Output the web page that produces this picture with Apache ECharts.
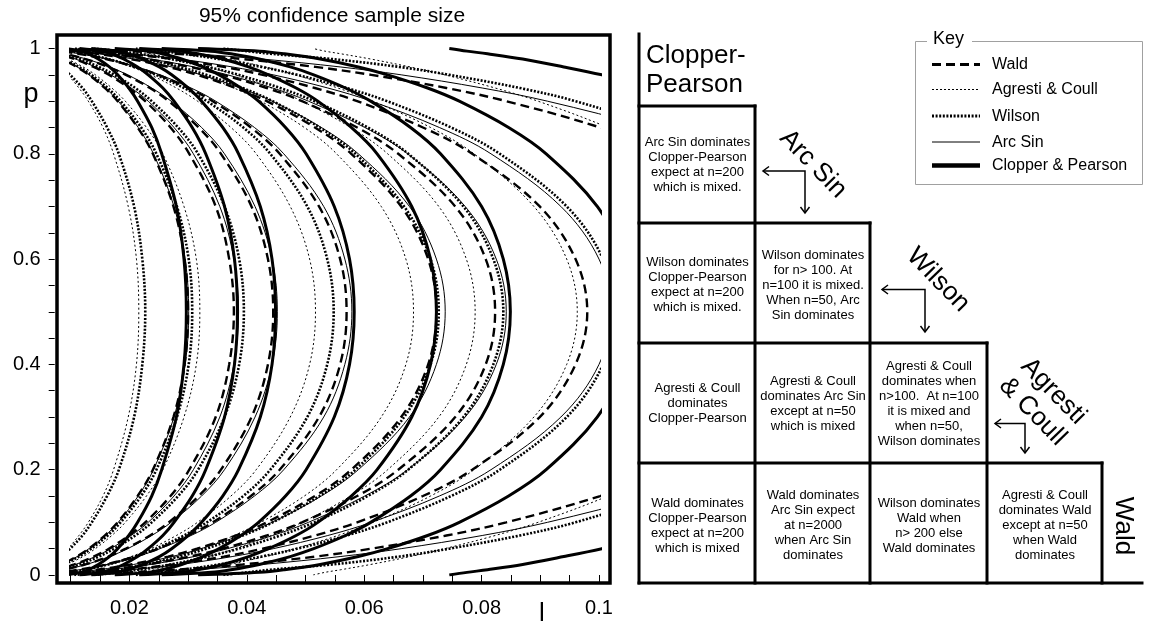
<!DOCTYPE html>
<html>
<head>
<meta charset="utf-8">
<title>95% confidence sample size</title>
<script src="https://cdn.jsdelivr.net/npm/echarts@6.0.0/dist/echarts.min.js"></script>
<style>
  html, body { margin: 0; padding: 0; background: #fff; }
  #chart { width: 1159px; height: 624px; }
</style>
</head>
<body>
<div id="chart"></div>
<script>
// Proportion levels for the lower half of every curve (each curve is symmetric about p = 0.5)
const pLevels = [0, 0.005, 0.01, 0.02, 0.035, 0.05, 0.075, 0.1, 0.15, 0.2, 0.3, 0.4, 0.5];

// Interval length l at each proportion level, one row per sample-size curve
const waldCurves = [
  [0, 0.0042, 0.0060, 0.0084, 0.0110, 0.0131, 0.0158, 0.0180, 0.0214, 0.0240, 0.0275, 0.0294, 0.0300],
  [0, 0.0053, 0.0075, 0.0106, 0.0139, 0.0165, 0.0199, 0.0227, 0.0270, 0.0302, 0.0347, 0.0370, 0.0378],
  [0, 0.0063, 0.0089, 0.0125, 0.0164, 0.0194, 0.0235, 0.0267, 0.0318, 0.0356, 0.0408, 0.0436, 0.0445],
  [0, 0.0080, 0.0113, 0.0160, 0.0210, 0.0249, 0.0300, 0.0342, 0.0407, 0.0456, 0.0523, 0.0559, 0.0570],
  [0, 0.0102, 0.0144, 0.0202, 0.0266, 0.0315, 0.0381, 0.0434, 0.0516, 0.0578, 0.0663, 0.0709, 0.0723],
  [0, 0.0116, 0.0164, 0.0230, 0.0303, 0.0359, 0.0434, 0.0494, 0.0588, 0.0658, 0.0755, 0.0807, 0.0823],
  [0, 0.0138, 0.0195, 0.0274, 0.0361, 0.0427, 0.0516, 0.0588, 0.0700, 0.0784, 0.0899, 0.0960, 0.0980],
  [0, 0.0198, 0.0279, 0.0393, 0.0517, 0.0612, 0.0740, 0.0842, 0.1002, 0.1123, 0.1287, 0.1376, 0.1404]
];
const agrestiCurves = [
  [0.0013, 0.0033, 0.0045, 0.0062, 0.0080, 0.0095, 0.0114, 0.0130, 0.0155, 0.0173, 0.0198, 0.0212, 0.0216],
  [0.0030, 0.0054, 0.0070, 0.0094, 0.0121, 0.0142, 0.0170, 0.0193, 0.0229, 0.0257, 0.0293, 0.0314, 0.0320],
  [0.0077, 0.0105, 0.0128, 0.0163, 0.0203, 0.0236, 0.0280, 0.0316, 0.0373, 0.0416, 0.0474, 0.0507, 0.0517],
  [0.0135, 0.0165, 0.0190, 0.0231, 0.0281, 0.0322, 0.0378, 0.0424, 0.0498, 0.0553, 0.0629, 0.0671, 0.0684],
  [0.0179, 0.0209, 0.0235, 0.0280, 0.0334, 0.0380, 0.0442, 0.0494, 0.0577, 0.0640, 0.0727, 0.0774, 0.0789],
  [0.0265, 0.0295, 0.0322, 0.0370, 0.0431, 0.0482, 0.0555, 0.0615, 0.0713, 0.0787, 0.0889, 0.0945, 0.0963],
  [0.0513, 0.0533, 0.0560, 0.0611, 0.0678, 0.0737, 0.0823, 0.0896, 0.1015, 0.1109, 0.1239, 0.1311, 0.1334]
];
const wilsonCurves = [
  [0.0010, 0.0034, 0.0046, 0.0064, 0.0084, 0.0099, 0.0120, 0.0136, 0.0162, 0.0182, 0.0208, 0.0222, 0.0227],
  [0.0019, 0.0047, 0.0064, 0.0088, 0.0114, 0.0135, 0.0163, 0.0185, 0.0220, 0.0246, 0.0281, 0.0301, 0.0307],
  [0.0031, 0.0064, 0.0084, 0.0115, 0.0148, 0.0174, 0.0210, 0.0238, 0.0283, 0.0317, 0.0362, 0.0387, 0.0395],
  [0.0060, 0.0098, 0.0124, 0.0164, 0.0209, 0.0245, 0.0293, 0.0332, 0.0394, 0.0440, 0.0503, 0.0537, 0.0548],
  [0.0106, 0.0146, 0.0178, 0.0227, 0.0285, 0.0331, 0.0393, 0.0444, 0.0524, 0.0585, 0.0668, 0.0713, 0.0727],
  [0.0140, 0.0182, 0.0216, 0.0270, 0.0334, 0.0386, 0.0457, 0.0515, 0.0606, 0.0675, 0.0769, 0.0820, 0.0837],
  [0.0211, 0.0254, 0.0291, 0.0352, 0.0425, 0.0486, 0.0570, 0.0639, 0.0748, 0.0831, 0.0945, 0.1007, 0.1027],
  [0.0360, 0.0400, 0.0440, 0.0545, 0.0660, 0.0745, 0.0865, 0.0960, 0.1100, 0.1200, 0.1300, 0.1350, 0.1370]
];
const arcSinCurves = [
  [0, 0.0043, 0.0060, 0.0085, 0.0111, 0.0131, 0.0159, 0.0181, 0.0215, 0.0241, 0.0276, 0.0295, 0.0301],
  [0, 0.0054, 0.0077, 0.0108, 0.0142, 0.0168, 0.0203, 0.0232, 0.0276, 0.0309, 0.0354, 0.0378, 0.0386],
  [0, 0.0064, 0.0090, 0.0127, 0.0166, 0.0197, 0.0238, 0.0271, 0.0323, 0.0362, 0.0414, 0.0443, 0.0452],
  [0, 0.0082, 0.0115, 0.0162, 0.0213, 0.0252, 0.0305, 0.0347, 0.0413, 0.0463, 0.0531, 0.0567, 0.0579],
  [0, 0.0104, 0.0147, 0.0207, 0.0272, 0.0322, 0.0389, 0.0443, 0.0527, 0.0590, 0.0677, 0.0723, 0.0738],
  [0.0020, 0.0119, 0.0168, 0.0236, 0.0310, 0.0367, 0.0444, 0.0505, 0.0601, 0.0674, 0.0772, 0.0825, 0.0842],
  [0.0052, 0.0148, 0.0203, 0.0286, 0.0375, 0.0445, 0.0538, 0.0612, 0.0728, 0.0816, 0.0935, 0.1000, 0.1020],
  [0.0113, 0.0242, 0.0309, 0.0426, 0.0559, 0.0663, 0.0801, 0.0912, 0.1085, 0.1216, 0.1394, 0.1490, 0.1520]
];
const clopperCurves = [
  [0.0089, 0.0119, 0.0130, 0.0147, 0.0166, 0.0180, 0.0199, 0.0214, 0.0238, 0.0255, 0.0280, 0.0293, 0.0297],
  [0.0115, 0.0153, 0.0169, 0.0190, 0.0214, 0.0232, 0.0257, 0.0276, 0.0307, 0.0330, 0.0362, 0.0379, 0.0384],
  [0.0135, 0.0179, 0.0197, 0.0223, 0.0251, 0.0272, 0.0300, 0.0323, 0.0359, 0.0386, 0.0423, 0.0443, 0.0449],
  [0.0175, 0.0233, 0.0256, 0.0289, 0.0325, 0.0353, 0.0390, 0.0420, 0.0466, 0.0501, 0.0549, 0.0575, 0.0583],
  [0.0217, 0.0288, 0.0317, 0.0359, 0.0403, 0.0437, 0.0484, 0.0521, 0.0578, 0.0622, 0.0681, 0.0713, 0.0723],
  [0.0255, 0.0339, 0.0373, 0.0421, 0.0474, 0.0514, 0.0568, 0.0611, 0.0679, 0.0730, 0.0800, 0.0837, 0.0849],
  [0.0317, 0.0422, 0.0464, 0.0525, 0.0590, 0.0640, 0.0708, 0.0762, 0.0846, 0.0910, 0.0997, 0.1043, 0.1058],
  [0.0745, 0.0775, 0.0810, 0.0870, 0.0940, 0.1005, 0.1100, 0.1200, 0.1400, 0.1550, 0.1750, 0.1850, 0.1900]
];

// Axis tick labels
const xTickValues = [0.02, 0.04, 0.06, 0.08, 0.1];
const xTickLabels = ['0.02', '0.04', '0.06', '0.08', '0.1'];
const yTickValues = [0, 0.2, 0.4, 0.6, 0.8, 1];
const yTickLabels = ['0', '0.2', '0.4', '0.6', '0.8', '1'];

// Key entries in display order
const methodNames = ['Wald', 'Agresti & Coull', 'Wilson', 'Arc Sin', 'Clopper & Pearson'];

// Notes of the comparison table: row, column, text
const cellNotes = [
  [0, 0, 'Arc Sin dominates\nClopper-Pearson\nexpect at n=200\nwhich is mixed.'],
  [1, 0, 'Wilson dominates\nClopper-Pearson\nexpect at n=200\nwhich is mixed.'],
  [1, 1, 'Wilson dominates\nfor n> 100. At\nn=100 it is mixed.\nWhen n=50, Arc\nSin dominates'],
  [2, 0, 'Agresti & Coull\ndominates\nClopper-Pearson'],
  [2, 1, 'Agresti & Coull\ndominates Arc Sin\nexcept at n=50\nwhich is mixed'],
  [2, 2, 'Agresti & Coull\ndominates when\nn>100.  At n=100\nit is mixed and\nwhen n=50,\nWilson dominates'],
  [3, 0, 'Wald dominates\nClopper-Pearson\nexpect at n=200\nwhich is mixed'],
  [3, 1, 'Wald dominates\nArc Sin expect\nat n=2000\nwhen Arc Sin\ndominates'],
  [3, 2, 'Wilson dominates\nWald when\nn> 200 else\nWald dominates'],
  [3, 3, 'Agresti & Coull\ndominates Wald\nexcept at n=50\nwhen Wald\ndominates']
];

const FONT = "'Liberation Sans', Arial, Helvetica, sans-serif";

// Line look of each method
const methodStyles = {
  'Wald':              { width: 2.4, type: [9, 5] },
  'Agresti & Coull':   { width: 1,   type: [2, 2.5] },
  'Wilson':            { width: 2.6, type: [2, 1.6] },
  'Arc Sin':           { width: 1,   type: 'solid' },
  'Clopper & Pearson': { width: 3,   type: 'solid' }
};
const legendStyles = {
  'Wald':              { lineWidth: 2.8, lineDash: [9, 5] },
  'Agresti & Coull':   { lineWidth: 1,   lineDash: [2, 2] },
  'Wilson':            { lineWidth: 2.8, lineDash: [2, 1.6] },
  'Arc Sin':           { lineWidth: 1,   lineDash: null },
  'Clopper & Pearson': { lineWidth: 4.5, lineDash: null }
};

// Lower half read upward, then the same lengths mirrored for p above 0.5
function curvePoints(lengths) {
  const pts = [];
  for (let i = 0; i < lengths.length; i++) pts.push([lengths[i], pLevels[i]]);
  for (let i = lengths.length - 2; i >= 0; i--) pts.push([lengths[i], 1 - pLevels[i]]);
  return pts;
}

const groups = [
  ['Clopper & Pearson', clopperCurves],
  ['Wald', waldCurves],
  ['Wilson', wilsonCurves],
  ['Arc Sin', arcSinCurves],
  ['Agresti & Coull', agrestiCurves]
];

const series = [];
groups.forEach(([name, rows]) => {
  rows.forEach(row => {
    series.push({
      type: 'line',
      name: name,
      data: curvePoints(row),
      showSymbol: false,
      symbol: 'none',
      smooth: 0.35,
      clip: true,
      silent: true,
      lineStyle: { color: '#000', width: methodStyles[name].width, type: methodStyles[name].type, cap: 'butt' }
    });
  });
});

function tickLabel(values, labels) {
  return function (v) {
    const i = values.findIndex(t => Math.abs(t - v) < 1e-9);
    return i >= 0 ? labels[i] : '';
  };
}

// ---- graphic elements: plot frame, axis letters, key, comparison table ----
const graphics = [];

// heavy frame round the plot
graphics.push({
  type: 'rect', z: 20,
  shape: { x: 57, y: 35, width: 553, height: 548 },
  style: { fill: 'none', stroke: '#000', lineWidth: 3.5 }
});
graphics.push({ type: 'text', z: 20, x: 31, y: 95,
  style: { text: 'p', fontSize: 27, fontFamily: FONT, fill: '#000', align: 'center', verticalAlign: 'middle' } });
graphics.push({ type: 'text', z: 20, x: 542, y: 614,
  style: { text: 'l', fontSize: 26, fontFamily: FONT, fill: '#000', align: 'center', verticalAlign: 'middle' } });

// key box
const keyRows = [64.5, 89.5, 116, 142, 165.5];
graphics.push({ type: 'rect', z: 20,
  shape: { x: 915.5, y: 41.5, width: 227, height: 143 },
  style: { fill: 'none', stroke: '#a0a0a0', lineWidth: 1 } });
graphics.push({ type: 'rect', z: 21,
  shape: { x: 927, y: 36, width: 45, height: 11 },
  style: { fill: '#fff', stroke: null } });
graphics.push({ type: 'text', z: 22, x: 933, y: 39.5,
  style: { text: 'Key', fontSize: 18, fontFamily: FONT, fill: '#000', align: 'left', verticalAlign: 'middle' } });
methodNames.forEach((name, i) => {
  const y = keyRows[i];
  const ls = legendStyles[name];
  graphics.push({ type: 'line', z: 22,
    shape: { x1: 932, y1: y, x2: 980, y2: y },
    style: { stroke: '#000', lineWidth: ls.lineWidth, lineDash: ls.lineDash } });
  graphics.push({ type: 'text', z: 22, x: 992, y: y + 0.5,
    style: { text: name, fontSize: 16, fontFamily: FONT, fill: '#000', align: 'left', verticalAlign: 'middle' } });
});

// comparison table (staircase of cells)
const tableCols = [639, 755, 870, 987, 1102];
const tableRows = [106, 223, 343, 463, 583];
const TW = 3;
function tline(x1, y1, x2, y2) {
  graphics.push({ type: 'line', z: 20, shape: { x1, y1, x2, y2 },
    style: { stroke: '#000', lineWidth: TW, lineCap: 'square' } });
}
tline(639, 34, 639, 583);
for (let k = 0; k < 4; k++) tline(639, tableRows[k], tableCols[k + 1], tableRows[k]);
tline(639, 583, 1142, 583);
for (let j = 1; j < 5; j++) tline(tableCols[j], tableRows[j - 1], tableCols[j], 583);

const cellTextY = [164.5, 285, 403.5, 525.5];
cellNotes.forEach(([r, c, txt]) => {
  graphics.push({ type: 'text', z: 20,
    x: (tableCols[c] + tableCols[c + 1]) / 2 + 0.5, y: cellTextY[r],
    style: { text: txt, fontSize: 13, lineHeight: 15, fontFamily: FONT, fill: '#000',
      align: 'center', verticalAlign: 'middle' } });
});

// headings of the table
graphics.push({ type: 'text', z: 20, x: 646, y: 41,
  style: { text: 'Clopper-\nPearson', fontSize: 26, lineHeight: 29, fontFamily: FONT, fill: '#000',
    align: 'left', verticalAlign: 'top' } });
const diagLabels = [
  ['Arc Sin', 813, 164],
  ['Wilson', 938, 280],
  ['Agresti\n& Coull', 1043, 401.5]
];
diagLabels.forEach(([txt, x, y]) => {
  graphics.push({ type: 'text', z: 20, x, y, rotation: -0.80,
    style: { text: txt, fontSize: 26, lineHeight: 29, fontFamily: FONT, fill: '#000',
      align: 'center', verticalAlign: 'middle' } });
});
graphics.push({ type: 'text', z: 20, x: 1123, y: 526, rotation: -Math.PI / 2,
  style: { text: 'Wald', fontSize: 26, fontFamily: FONT, fill: '#000', align: 'center', verticalAlign: 'middle' } });

// elbow arrows pointing at the row to the left and the column below
const elbows = [
  [763, 171, 805, 213],
  [882, 289.5, 925, 332],
  [995, 423.5, 1025, 453]
];
elbows.forEach(([xl, yc, xc, yb]) => {
  const st = { stroke: '#000', lineWidth: 1.5, fill: null };
  graphics.push({ type: 'polyline', z: 20, shape: { points: [[xl, yc], [xc, yc], [xc, yb]] }, style: st });
  graphics.push({ type: 'polyline', z: 20, shape: { points: [[xl + 6, yc - 4.5], [xl, yc], [xl + 6, yc + 4.5]] }, style: st });
  graphics.push({ type: 'polyline', z: 20, shape: { points: [[xc - 4.5, yb - 6], [xc, yb], [xc + 4.5, yb - 6]] }, style: st });
});

const chart = echarts.init(document.getElementById('chart'), null, { renderer: 'canvas' });
chart.setOption({
  animation: false,
  backgroundColor: '#fff',
  title: {
    text: '95% confidence sample size',
    left: 327, top: 1, textAlign: 'center',
    textStyle: { fontSize: 21, fontWeight: 'normal', color: '#000', fontFamily: FONT }
  },
  grid: { left: 70.7, top: 48.5, width: 528.3, height: 526.5, outerBoundsMode: 'none', containLabel: false },
  xAxis: {
    type: 'value', min: 0.01, max: 0.1, interval: 0.005, offset: 11,
    axisLine: { show: false },
    axisTick: { show: true, length: 7, lineStyle: { color: '#000', width: 1 } },
    axisLabel: { margin: 12, fontSize: 20, color: '#000', fontFamily: FONT,
      formatter: tickLabel(xTickValues, xTickLabels) },
    splitLine: { show: false }
  },
  yAxis: {
    type: 'value', min: 0, max: 1, interval: 0.05, offset: 16,
    axisLine: { show: false },
    axisTick: { show: true, length: 6, lineStyle: { color: '#000', width: 1 } },
    axisLabel: { margin: 14, fontSize: 20, color: '#000', fontFamily: FONT,
      formatter: tickLabel(yTickValues, yTickLabels) },
    splitLine: { show: false }
  },
  series: series,
  graphic: graphics
});
</script>
</body>
</html>
